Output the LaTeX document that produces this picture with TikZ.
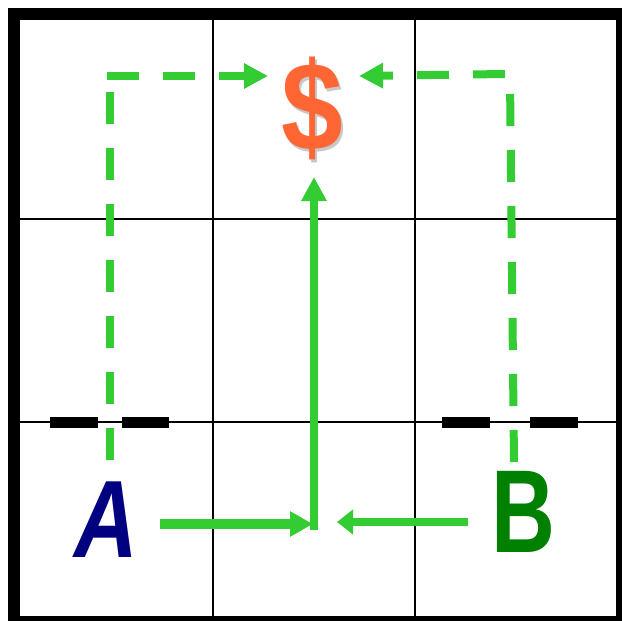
\documentclass[tikz,border=0pt]{standalone}
\usepackage{fontspec}
\setmainfont{Liberation Sans}
\usetikzlibrary{arrows.meta}
\definecolor{lgreen}{HTML}{33CC33}
\definecolor{dgreen}{HTML}{008000}
\definecolor{navyA}{HTML}{000080}
\definecolor{dollar}{HTML}{FF6633}
\definecolor{shade}{HTML}{C8C8C8}
\begin{document}
\begin{tikzpicture}[x=1pt,y=-1pt,
  gridline/.style={line width=2pt,black},
  wall/.style={line width=11pt,black},
  dashseg/.style={lgreen,line width=8pt,dash pattern=on 32pt off 24pt},
  flowdash/.style={dashseg,-{Triangle[length=24pt,width=24pt]}},
  flowsolid/.style={lgreen,line width=8pt,-{Triangle[length=24pt,width=24pt]}},
  letter/.style={inner sep=0pt,anchor=base,font=\bfseries\fontsize{110}{110}\selectfont}]
\useasboundingbox (0,0) rectangle (622,621);
\fill[white] (0,0) rectangle (622,621);
% grid
\draw[gridline] (213,14) -- (213,622);
\draw[gridline] (415,14) -- (415,622);
\draw[gridline] (14,219) -- (622,219);
\draw[gridline] (14,422) -- (622,422);
% walls
\draw[wall] (50,422) -- (98,422);
\draw[wall] (122,422) -- (169,422);
\draw[wall] (442,422) -- (490,422);
\draw[wall] (530,422) -- (578,422);
% border
\draw[line width=12pt,black] (14,14) rectangle (622,622);
% labels
\node[inner sep=0pt,anchor=base,font=\bfseries\fontsize{126}{126}\selectfont] (dol) at (312,150)
  {\scalebox{0.88}[1]{\makebox[0pt][l]{\hspace{3pt}\raisebox{-3pt}{\textcolor{shade}{\$}}}\textcolor{dollar}{\$}}};
\node[letter,text=navyA] (A) at (106,557) {\scalebox{0.8}[1]{\itshape A}};
\node[letter,text=dgreen,font=\bfseries\fontsize{118}{118}\selectfont] (B) at (523,552) {\scalebox{0.75}[1]{B}};
% path coordinates
\coordinate (a0) at (110,460);
\coordinate (a1) at (110,80);
\coordinate (a2) at (107,76);
\coordinate (a3) at (268,76);
\coordinate (b0) at (514,462);
\coordinate (b1) at (510,78);
\coordinate (b2) at (505,74);
\coordinate (b3) at (359,76);
\coordinate (m0) at (314,530);
\coordinate (m1) at (314,177);
\coordinate (h0) at (160,524);
\coordinate (h1) at (313,524);
\coordinate (k0) at (468,522);
\coordinate (k1) at (337,522);
% dashed routes
\draw[dashseg] (a0) -- (a1);
\draw[flowdash] (a2) -- (a3);
\draw[dashseg] (b0) -- (b1);
\draw[flowdash] (b2) -- (b3);
% solid routes
\draw[flowsolid] (m0) -- (m1);
\draw[flowsolid,line width=10pt,-{Triangle[length=23pt,width=24pt]}] (h0) -- (h1);
\draw[flowsolid,-{Triangle[length=16pt,width=24pt]}] (k0) -- (k1);
\end{tikzpicture}
\end{document}
